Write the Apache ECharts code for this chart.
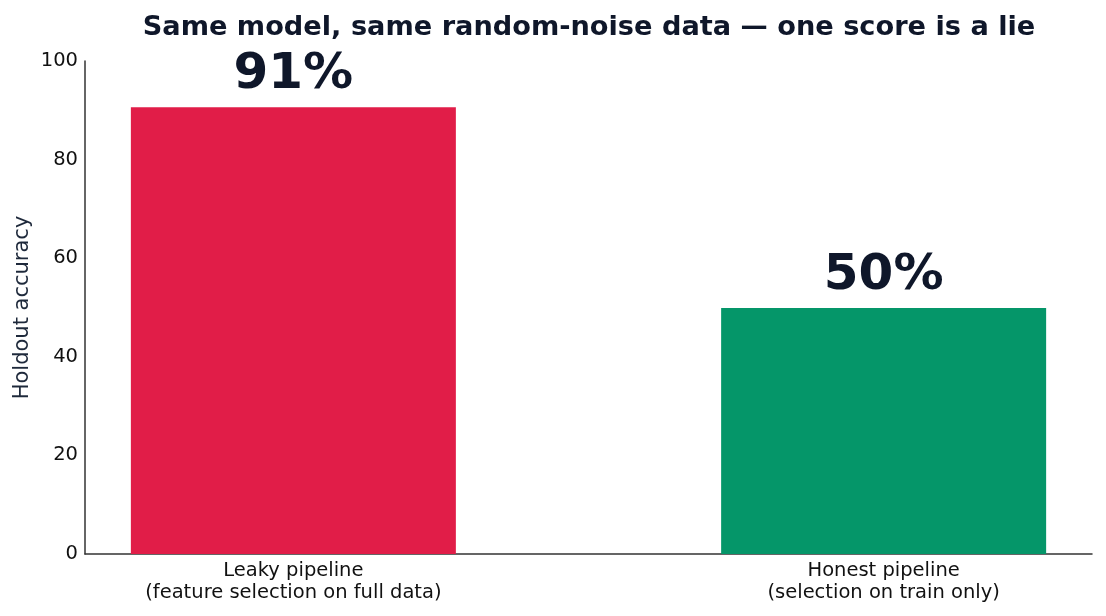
<!DOCTYPE html>
<html>
<head>
<meta charset="utf-8">
<script src="https://cdn.jsdelivr.net/npm/echarts@6/dist/echarts.min.js"></script>
<style>
  html, body { margin: 0; padding: 0; background: #fff; }
  #main { width: 1106px; height: 616px; }
</style>
</head>
<body>
<div id="main"></div>
<script>
// chart data
const categories = ['Leaky pipeline\n(feature selection on full data)', 'Honest pipeline\n(selection on train only)']
const accuracy = [90.6, 49.9]
const barColors = ['#e11d48', '#059669']
const yTicks = [0, 20, 40, 60, 80, 100]

const font = 'DejaVu Sans'
const myChart = echarts.init(document.getElementById('main'))

const option = {
    backgroundColor: '#fff',
    animation: false,
    title: {
        text: 'Same model, same random-noise data \u2014 one score is a lie',
        left: 584,
        textAlign: 'center',
        top: 9,
        textStyle: { fontFamily: font, fontSize: 27.2, fontWeight: 'bold', color: '#0f172a' }
    },
    grid: { left: 85, right: 14, top: 61, bottom: 62 },
    xAxis: {
        type: 'value',
        min: -0.353,
        max: 1.353,
        splitLine: { show: false },
        axisLine: { show: true, onZero: false, lineStyle: { color: '#333', width: 1.5 } },
        axisTick: { show: false },
        axisLabel: {
            customValues: [0, 1],
            formatter: v => categories[Math.round(v)],
            fontFamily: font, fontSize: 19.5, color: '#111', lineHeight: 22, margin: 6
        }
    },
    yAxis: {
        type: 'value',
        min: 0,
        max: 100,
        interval: 20,
        name: 'Holdout accuracy',
        nameLocation: 'middle',
        nameGap: 52,
        nameMoveOverlap: false,
        nameTextStyle: { fontFamily: font, fontSize: 21, color: '#1e293b' },
        splitLine: { show: false },
        axisLine: { show: true, onZero: false, lineStyle: { color: '#333', width: 1.5 } },
        axisTick: { show: false },
        axisLabel: {
            fontFamily: font, fontSize: 19.5, color: '#111', margin: 7,
            customValues: yTicks
        }
    },
    series: [{
        type: 'bar',
        barWidth: 325,
        data: accuracy.map((v, i) => ({ value: [i, v], itemStyle: { color: barColors[i] } })),
        label: {
            show: true,
            position: 'top',
            distance: 7,
            formatter: p => Math.round(p.value[1]) + '%',
            fontFamily: font, fontSize: 50, fontWeight: 'bold', color: '#0f172a'
        }
    }]
}

myChart.setOption(option)
</script>
</body>
</html>
